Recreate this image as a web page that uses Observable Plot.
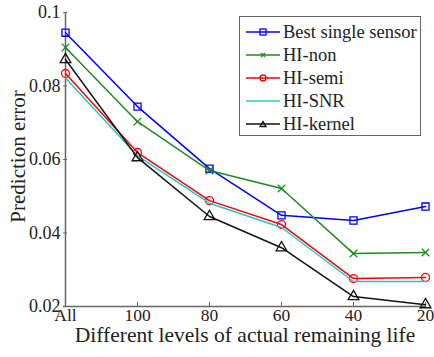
<!DOCTYPE html>
<html><head><meta charset="utf-8">
<script src="https://cdn.jsdelivr.net/npm/d3@7"></script>
<script src="https://cdn.jsdelivr.net/npm/@observablehq/plot@0.6"></script>
<style>
body{margin:0;background:#fff;font-family:"Liberation Serif","Times New Roman","DejaVu Serif",serif;}
#wrap{position:relative;width:434px;height:357px;}
#legend{position:absolute;left:239px;top:16px;width:182px;height:120px;border:1.5px solid #666;background:#fff;box-sizing:border-box;}
#legend .row{position:absolute;left:5px;height:22px;display:flex;align-items:center;font-size:18.5px;color:#222;white-space:nowrap;}
#legend svg{margin-right:2px;}
svg text{font-family:"Liberation Serif","Times New Roman","DejaVu Serif",serif;}
</style></head>
<body><div id="wrap"><div id="chart"></div><div id="legend"></div></div>
<script>
const levels = ["All","100","80","60","40","20"];
const seriesNames = ["Best single sensor","HI-non","HI-semi","HI-SNR","HI-kernel"];
const bestSingle = [0.0945,0.0744,0.0575,0.0448,0.0434,0.0472];
const hiNon     = [0.0905,0.0703,0.0570,0.0521,0.0344,0.0347];
const hiSemi    = [0.0834,0.0619,0.0488,0.0423,0.0276,0.0279];
const hiSNR     = [0.0822,0.0610,0.0481,0.0415,0.0268,0.0268];
const hiKernel  = [0.0872,0.0605,0.0445,0.0360,0.0227,0.0205];
const yTicks = [0.02,0.04,0.06,0.08,0.1];
const colors = ["#0000ff","#1f8a1f","#ff0000","#22c8c8","#111111"];
const symbols = ["square","times","circle",null,"triangle"];
const values = [bestSingle,hiNon,hiSemi,hiSNR,hiKernel];

const data = [];
seriesNames.forEach((s,i)=>levels.forEach((l,j)=>data.push({series:s,level:l,value:values[i][j]})));

const marks = [
  Plot.ruleY([0.02],{stroke:"#666",strokeWidth:1.5}),
  Plot.ruleX(["All"],{stroke:"#666",strokeWidth:1.5}),
  Plot.axisY({ticks:yTicks,tickSize:-4,tickFormat:d=>String(+d.toFixed(2)),fontSize:18,fill:"#222",stroke:"#666",tickPadding:7,label:null}),
  Plot.axisX({tickSize:-4,fontSize:17.5,fill:"#222",stroke:"#666",tickPadding:6,label:null}),
  Plot.text(["Prediction error"],{frameAnchor:"left",textAnchor:"middle",dx:-45,dy:-3,rotate:-90,fontSize:21,fill:"#222"}),
  Plot.text(["Different levels of actual remaining life"],{frameAnchor:"bottom",lineAnchor:"middle",dy:29,dx:0,fontSize:21.5,fill:"#222"})
];
seriesNames.forEach((s,i)=>{
  const d = data.filter(r=>r.series===s);
  marks.push(Plot.line(d,{x:"level",y:"value",stroke:colors[i],strokeWidth:1.5}));
  if(symbols[i]) marks.push(Plot.dot(d,{x:"level",y:"value",stroke:colors[i],fill:"none",symbol:symbols[i],r:symbols[i]==="times"?3.5:4,strokeWidth:1.3}));
});

const chart = Plot.plot({
  width:434,height:357,
  marginLeft:63,marginRight:8,marginTop:12,marginBottom:51,
  style:{fontFamily:"'Liberation Serif','Times New Roman',serif",background:"white"},
  x:{type:"point",domain:levels,padding:0},
  y:{domain:[0.02,0.1]},
  marks
});
document.getElementById("chart").appendChild(chart);

const leg = document.getElementById("legend");
seriesNames.forEach((s,i)=>{
  const row = document.createElement("div");
  row.className="row";
  row.style.top = (4+i*23)+"px";
  let sym = "";
  const c = colors[i];
  if(symbols[i]==="square") sym=`<rect x="15" y="7" width="6" height="6" fill="none" stroke="${c}" stroke-width="1.3"/>`;
  if(symbols[i]==="times") sym=`<path d="M16,8L20,12M20,8L16,12" stroke="${c}" stroke-width="1.3"/>`;
  if(symbols[i]==="circle") sym=`<circle cx="18" cy="10" r="3" fill="none" stroke="${c}" stroke-width="1.3"/>`;
  if(symbols[i]==="triangle") sym=`<path d="M15,12.5L18,7.5L21,12.5Z" fill="none" stroke="${c}" stroke-width="1.3"/>`;
  row.innerHTML = `<svg width="36" height="20"><line x1="1" y1="10" x2="35" y2="10" stroke="${c}" stroke-width="1.5"/>${sym}</svg><span>${s}</span>`;
  leg.appendChild(row);
});
</script></body></html>
